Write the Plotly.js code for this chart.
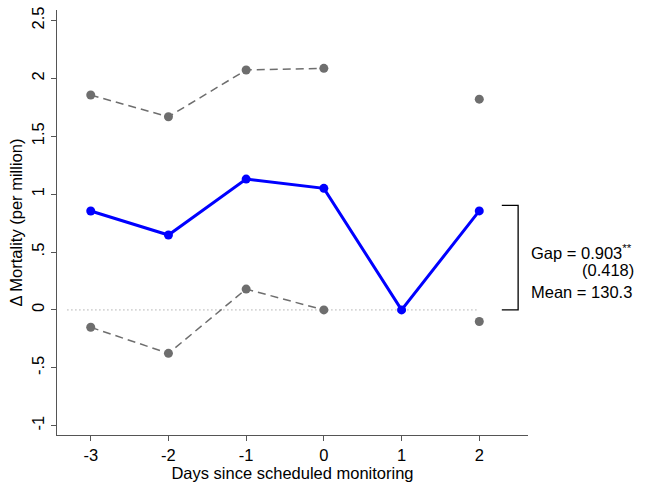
<!DOCTYPE html>
<html>
<head>
<meta charset="utf-8">
<script src="https://cdn.plot.ly/plotly-3.0.1.min.js"></script>
<style>
  html, body { margin: 0; padding: 0; background: #ffffff; }
  #chart { width: 665px; height: 487px; }
</style>
</head>
<body>
<div id="chart"></div>
<script>
// Days relative to the scheduled monitoring day
const days = [-3, -2, -1, 0, 1, 2];

// Point estimates and 95% confidence bounds (null where not estimated)
const estimate = [0.854, 0.647, 1.13, 1.05, 0, 0.855];
const upperCI  = [1.856, 1.668, 2.072, 2.086, null, 1.82];
const lowerCI  = [-0.15, -0.375, 0.18, 0.0, null, -0.10];

// Summary statistics shown beside the bracket
const gapValue = 0.903;
const gapLabel = "Gap = 0.903<sup>**</sup>";
const seLabel = "(0.418)";
const meanLabel = "Mean = 130.3";

// Y axis ticks
const yTickVals = [-1, -0.5, 0, 0.5, 1, 1.5, 2, 2.5];
const yTickText = ["-1", "-.5", "0", ".5", "1", "1.5", "2", "2.5"];

const grey = "#6e6e6e";
const font = "Liberation Sans, Arial, sans-serif";
const fs = 16.5;

const traces = [
  {
    // zero reference line
    x: [-3.3, 2],
    y: [0, 0],
    mode: "lines",
    line: { color: "#888888", width: 1, dash: "1px,3px" },
    hoverinfo: "skip"
  },
  {
    x: days, y: upperCI,
    mode: "lines+markers",
    connectgaps: false,
    line: { color: grey, width: 1.5, dash: "8px,5px" },
    marker: { color: grey, size: 9 }
  },
  {
    x: days, y: lowerCI,
    mode: "lines+markers",
    connectgaps: false,
    line: { color: grey, width: 1.5, dash: "8px,5px" },
    marker: { color: grey, size: 9 }
  },
  {
    x: days, y: estimate,
    mode: "lines+markers",
    line: { color: "#0000ff", width: 3 },
    marker: { color: "#0000ff", size: 9 }
  }
];

const layout = {
  width: 665,
  height: 487,
  margin: { l: 57, r: 137, t: 10, b: 52 },
  paper_bgcolor: "#ffffff",
  plot_bgcolor: "#ffffff",
  showlegend: false,
  font: { family: font, size: fs, color: "#000000" },
  xaxis: {
    range: [-3.434, 2.627],
    tickvals: days,
    ticktext: days.map(String),
    tickfont: { family: font, size: fs },
    ticks: "outside",
    ticklen: 5,
    tickcolor: "#555555",
    showline: true,
    linecolor: "#555555",
    linewidth: 1,
    showgrid: false,
    zeroline: false,
    title: { text: "Days since scheduled monitoring", font: { family: font, size: fs }, standoff: 0 }
  },
  yaxis: {
    range: [-1.08, 2.59],
    tickvals: yTickVals,
    ticktext: yTickText,
    tickangle: -90,
    tickfont: { family: font, size: fs },
    ticks: "outside",
    ticklen: 5,
    tickcolor: "#555555",
    showline: true,
    linecolor: "#555555",
    linewidth: 1,
    showgrid: false,
    zeroline: false,
    title: { text: "Δ Mortality (per million)", font: { family: font, size: fs }, standoff: 2 }
  },
  shapes: [
    {
      type: "path",
      xref: "x", yref: "y",
      path: "M 2.29 " + gapValue + " L 2.5 " + gapValue + " L 2.5 0 L 2.29 0",
      line: { color: "#000000", width: 1.3 }
    }
  ],
  annotations: [
    { x: 1.002, y: 0.50, xref: "paper", yref: "y", xanchor: "left", yanchor: "middle",
      text: gapLabel, showarrow: false, font: { family: font, size: fs } },
    { x: 1.229, y: 0.345, xref: "paper", yref: "y", xanchor: "right", yanchor: "middle",
      text: seLabel, showarrow: false, font: { family: font, size: fs } },
    { x: 1.002, y: 0.155, xref: "paper", yref: "y", xanchor: "left", yanchor: "middle",
      text: meanLabel, showarrow: false, font: { family: font, size: fs } }
  ]
};

Plotly.newPlot("chart", traces, layout, { displayModeBar: false, staticPlot: true });
</script>
</body>
</html>
